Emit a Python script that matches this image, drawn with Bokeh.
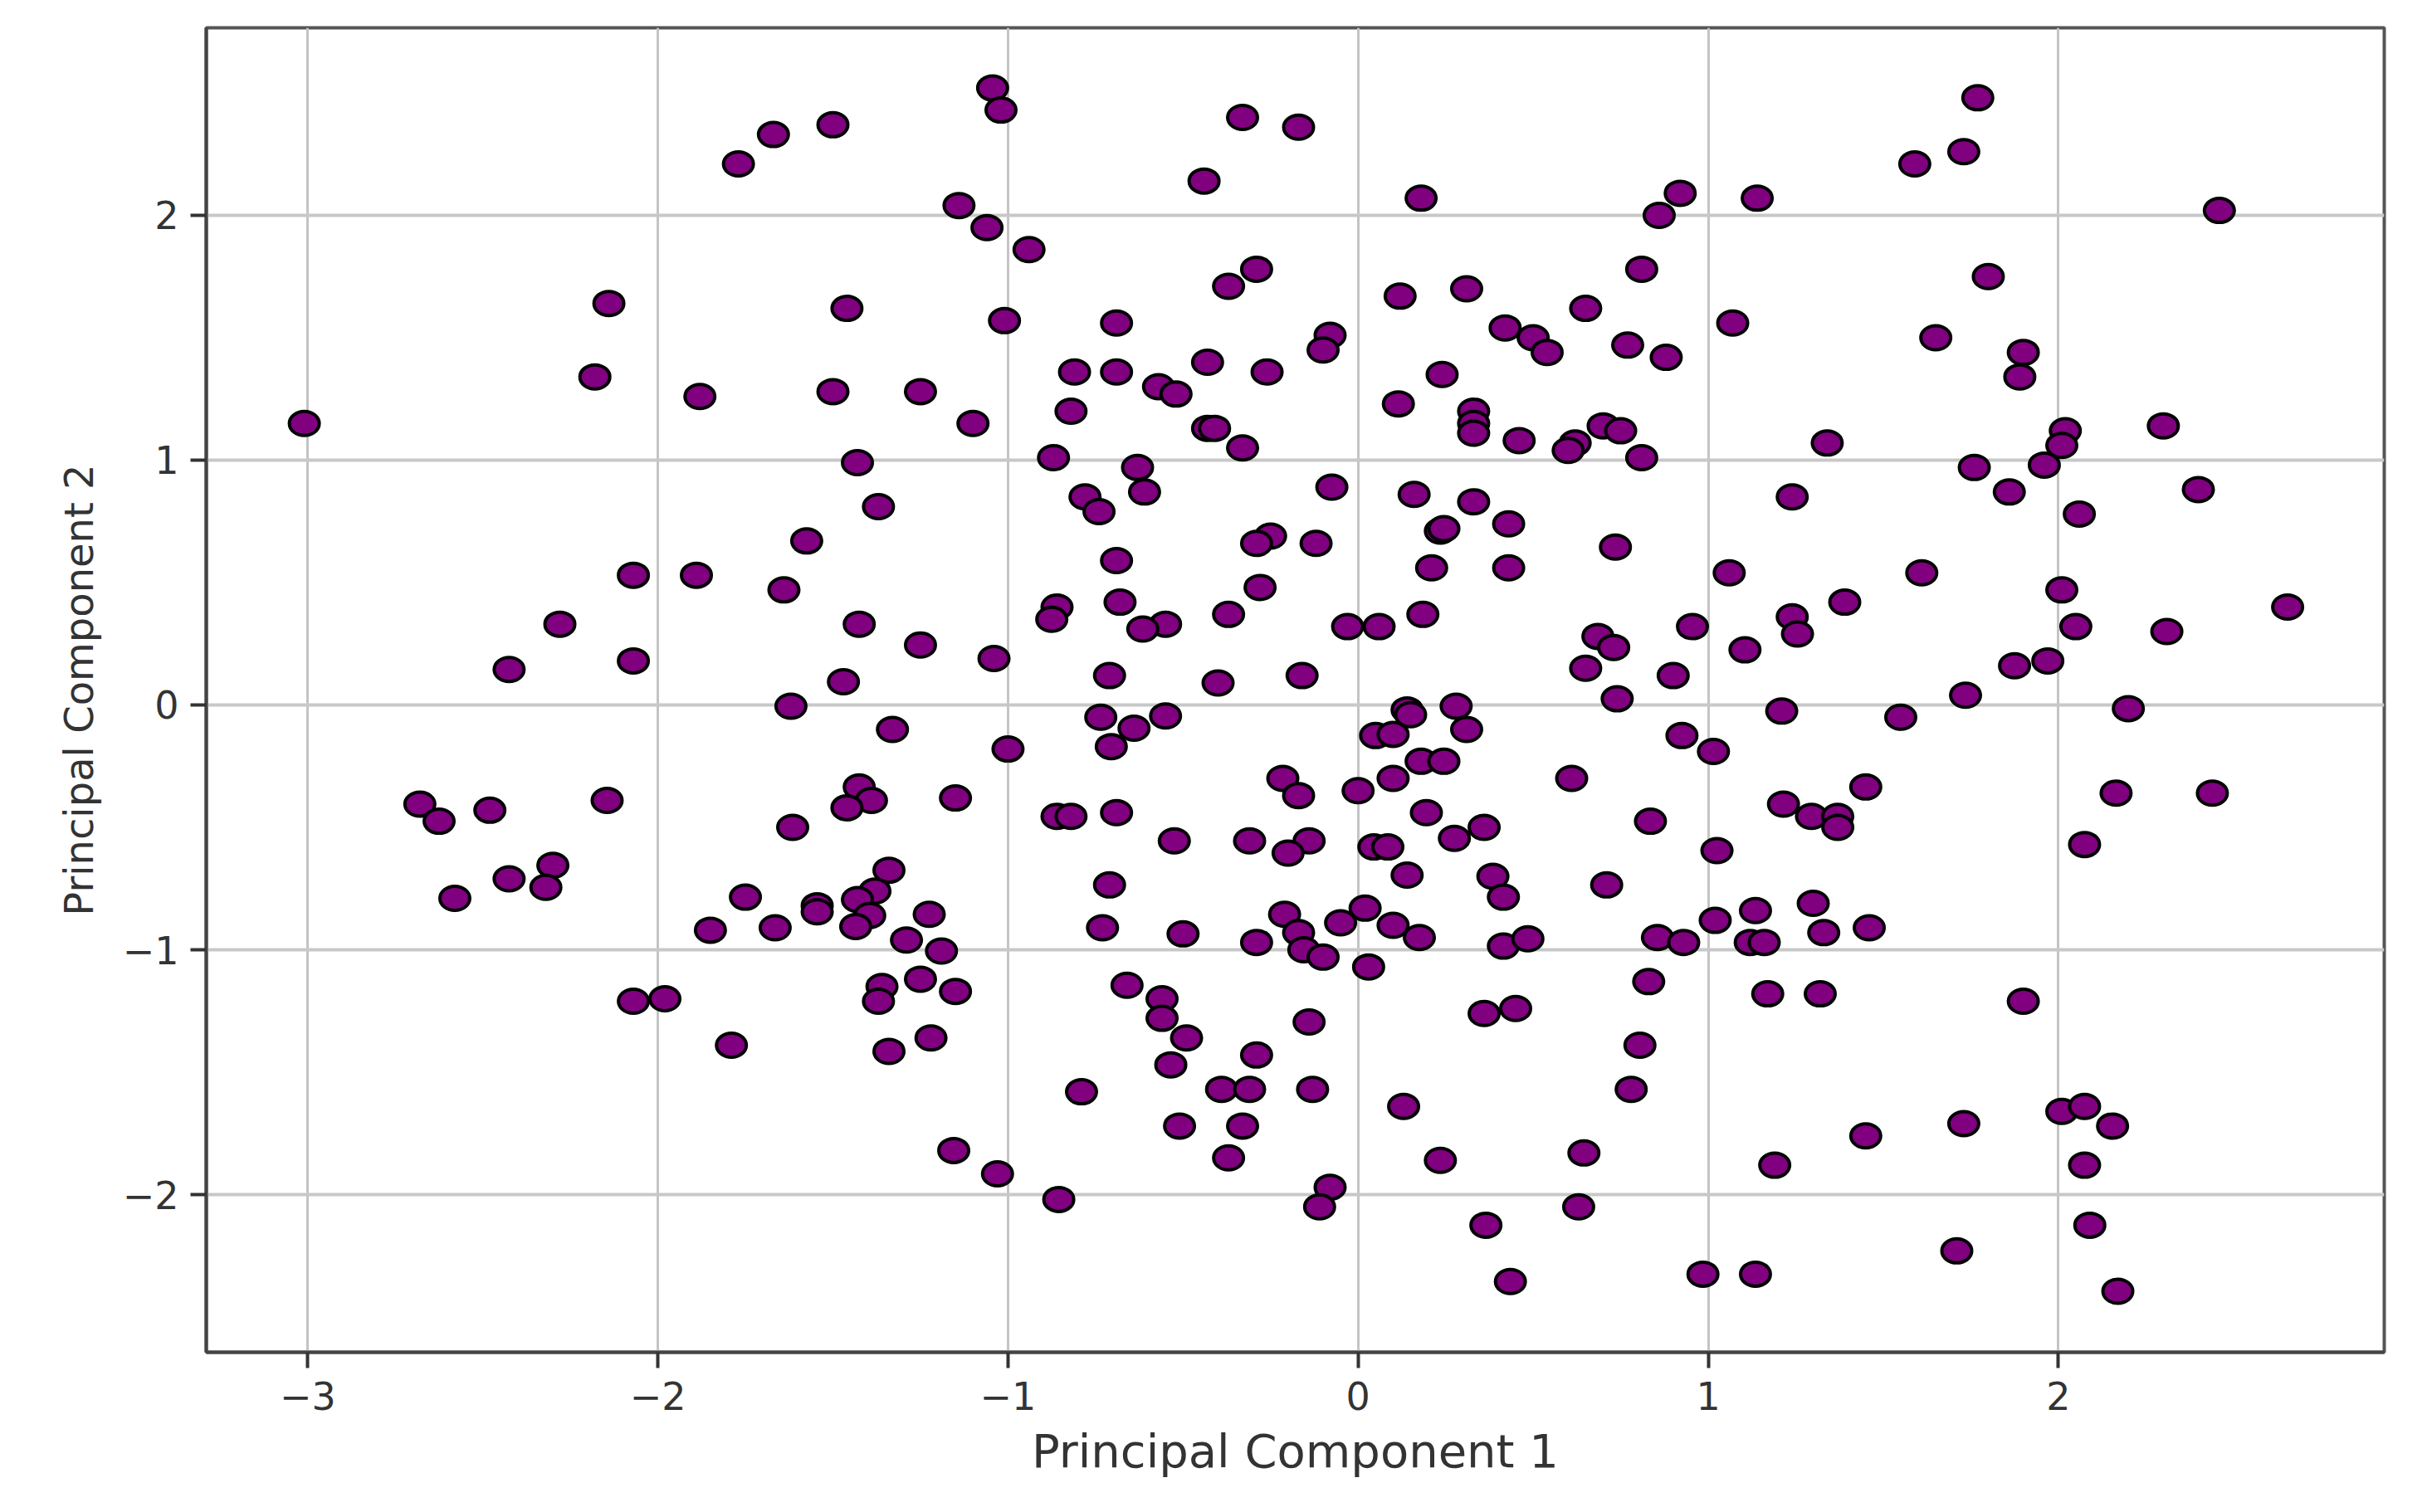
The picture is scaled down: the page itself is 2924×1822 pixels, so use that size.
from bokeh.plotting import figure
from bokeh.embed import file_html
from bokeh.resources import INLINE
from bokeh.models import Range1d, FixedTicker, Label, CustomJSTickFormatter

pc1 = [-1.044,-1.02,1.77,1.73,1.59,-0.33,-0.17,-1.50,-1.67,-1.77,-0.44,-1.14,-1.06,-0.94,0.18,0.92,0.86,1.14,2.46,
-2.14,-1.46,-1.01,-0.69,-0.29,-0.37,0.12,0.31,0.81,0.65,0.42,0.50,0.54,-0.08,-0.10,0.77,0.88,1.07,1.80,1.65,1.90,1.89,
-2.18,-1.88,-1.50,-1.25,-0.81,-0.69,-0.43,-0.26,0.24,-0.57,-0.52,0.115,-0.82,-1.10,-3.01,-0.43,-0.41,0.33,0.33,0.33,0.46,0.62,0.60,0.70,0.75,0.81,
-0.33,-0.87,-1.43,-0.63,1.34,2.02,2.01,1.96,2.30,1.76,1.86,2.40,2.06,1.24,-0.78,-0.74,-0.61,-1.37,-0.075,0.16,0.33,0.235,0.245,0.43,-0.25,-0.29,-0.12,
-0.69,-1.575,0.735,0.21,0.43,-2.07,-1.89,-1.64,-0.28,1.06,1.61,2.01,2.655,-0.86,-0.875,-0.68,-0.37,0.185,1.39,1.24,-2.28,-1.425,-0.55,-0.615,-0.03,0.06,0.955,2.05,2.31,1.255,
-1.25,0.685,0.73,1.105,-1.04,-2.07,-2.425,0.65,0.90,1.875,1.97,-0.71,-0.16,-1.47,-0.40,1.735,0.74,-1.62,0.28,2.20,1.21,0.14,1.55,-0.735,-0.55,-0.64,-1.33,0.31,0.05,0.10,0.15,
-0.705,0.925,-1.00,1.015,0.18,0.245,0.61,-0.215,0.10,-0.17,0.0,1.45,2.165,2.44,-2.68,-2.625,-2.48,-2.145,-1.425,-1.39,-1.46,-1.15,-0.86,-0.82,-0.69,0.195,1.215,1.295,1.37,1.37,0.835,
-1.615,0.36,0.275,-0.31,-0.14,-0.525,-0.20,0.045,0.085,1.025,2.075,-2.30,-2.425,-2.32,-2.58,-1.34,-1.38,-1.43,-1.75,-1.545,-1.545,-1.395,-1.435,-1.225,-0.71,0.14,0.385,0.415,0.71,1.135,1.30,
-0.21,0.02,-0.05,0.10,-0.17,-1.85,-1.665,-0.73,-0.50,0.175,-0.29,-1.29,-0.155,-0.10,-1.19,0.415,0.485,0.855,0.93,1.02,1.12,1.16,1.33,1.46,0.03,-1.25,-1.36,-1.15,-0.66,0.83,1.17,1.32,
-2.07,-1.98,-1.37,-0.56,1.90,-0.56,-0.14,0.36,0.45,-0.49,-1.22,-1.79,-1.34,-0.29,0.805,-0.535,-0.79,-0.39,-0.31,-0.13,0.78,0.13,2.01,2.075,-0.51,-0.33,1.73,2.155,1.45,
-1.155,-0.37,0.645,0.235,1.19,2.075,-1.03,-0.08,-0.855,-0.11,0.63,0.365,2.09,1.71,0.985,1.135,0.435,2.17]

pc2 = [2.52,2.43,2.48,2.26,2.21,2.40,2.36,2.37,2.33,2.21,2.14,2.04,1.95,1.86,2.07,2.09,2.00,2.07,2.02,
1.64,1.62,1.57,1.56,1.78,1.71,1.67,1.70,1.78,1.62,1.54,1.50,1.44,1.51,1.45,1.47,1.42,1.56,1.75,1.50,1.44,1.34,
1.34,1.26,1.28,1.28,1.36,1.36,1.40,1.36,1.35,1.30,1.27,1.23,1.20,1.15,1.15,1.13,1.13,1.20,1.15,1.11,1.08,1.07,1.04,1.14,1.12,1.01,
1.05,1.01,0.99,0.97,1.07,1.12,1.06,0.98,1.14,0.97,0.87,0.88,0.78,0.85,0.85,0.79,0.87,0.81,0.89,0.86,0.83,0.71,0.72,0.74,0.69,0.66,0.66,
0.59,0.67,0.645,0.56,0.56,0.53,0.53,0.47,0.48,0.54,0.54,0.47,0.40,0.40,0.35,0.42,0.37,0.37,0.42,0.36,0.33,0.33,0.33,0.31,0.32,0.32,0.32,0.32,0.30,0.29,
0.245,0.28,0.235,0.225,0.19,0.18,0.145,0.15,0.12,0.16,0.18,0.12,0.12,0.095,0.09,0.04,0.025,-0.005,-0.005,-0.015,-0.025,-0.02,-0.05,-0.05,-0.045,-0.095,-0.10,-0.10,-0.125,-0.12,-0.04,
-0.17,-0.125,-0.18,-0.19,-0.23,-0.23,-0.30,-0.30,-0.30,-0.37,-0.35,-0.335,-0.36,-0.36,-0.405,-0.475,-0.43,-0.39,-0.335,-0.39,-0.42,-0.38,-0.455,-0.455,-0.44,-0.44,-0.405,-0.455,-0.455,-0.50,-0.475,
-0.50,-0.50,-0.545,-0.555,-0.555,-0.555,-0.605,-0.58,-0.58,-0.595,-0.57,-0.655,-0.71,-0.745,-0.79,-0.675,-0.76,-0.795,-0.785,-0.82,-0.845,-0.86,-0.905,-0.855,-0.735,-0.695,-0.70,-0.785,-0.735,-0.84,-0.81,
-0.855,-0.83,-0.89,-0.90,-0.93,-0.92,-0.91,-0.91,-0.935,-0.95,-0.97,-0.96,-1.00,-1.03,-1.005,-0.985,-0.955,-0.95,-0.97,-0.88,-0.97,-0.97,-0.93,-0.91,-1.07,-1.12,-1.15,-1.17,-1.145,-1.13,-1.18,-1.18,
-1.21,-1.20,-1.21,-1.20,-1.21,-1.28,-1.295,-1.26,-1.24,-1.36,-1.36,-1.39,-1.415,-1.43,-1.39,-1.47,-1.58,-1.57,-1.57,-1.57,-1.57,-1.64,-1.66,-1.64,-1.72,-1.72,-1.71,-1.72,-1.76,
-1.82,-1.85,-1.83,-1.86,-1.88,-1.88,-1.915,-1.97,-2.02,-2.05,-2.05,-2.125,-2.125,-2.23,-2.325,-2.325,-2.355,-2.395]

x_ticks = [-3, -2, -1, 0, 1, 2]
y_ticks = [-2, -1, 0, 1, 2]
x_title = "Principal Component 1"
y_title = "Principal Component 2"

p = figure(
    width=2908, height=1806, output_backend="svg", toolbar_location=None,
    x_range=Range1d(-3.29, 2.931), y_range=Range1d(-2.644, 2.766),
    x_axis_label=x_title, y_axis_label=y_title,
    min_border_left=248, min_border_right=36, min_border_top=33, min_border_bottom=177,
    frame_width=2624, frame_height=1596,
)
p.background_fill_color = "white"
p.outline_line_color = "#555555"
p.outline_line_width = 4

p.xgrid.ticker = FixedTicker(ticks=x_ticks)
p.ygrid.ticker = FixedTicker(ticks=y_ticks)
p.xgrid.grid_line_color = "#c4c4c4"
p.ygrid.grid_line_color = "#c8c8c8"
p.xgrid.grid_line_width = 3
p.ygrid.grid_line_width = 4

fmt = CustomJSTickFormatter(code="return tick < 0 ? '\u2212' + Math.abs(tick) : String(tick);")
for ax, ticks in ((p.xaxis[0], x_ticks), (p.yaxis[0], y_ticks)):
    ax.ticker = FixedTicker(ticks=ticks)
    ax.formatter = fmt
    ax.minor_tick_line_color = None
    ax.major_tick_in = 0
    ax.major_tick_out = 19
    ax.major_tick_line_width = 4
    ax.major_tick_line_color = "#333333"
    ax.axis_line_color = "#444444"
    ax.axis_line_width = 4
    ax.major_label_text_font = "DejaVu Sans"
    ax.major_label_text_font_size = "46px"
    ax.major_label_text_color = "#333333"
    ax.axis_label_text_font = "DejaVu Sans"
    ax.axis_label_text_font_style = "normal"
    ax.axis_label_text_color = "#333333"

p.xaxis[0].axis_label_text_font_size = "56px"
p.yaxis[0].axis_label_text_font_size = "48px"
p.xaxis[0].major_label_standoff = 16
p.yaxis[0].major_label_standoff = 14
p.xaxis[0].axis_label_standoff = 14
p.yaxis[0].axis_label_standoff = 22

p.ellipse(x=pc1, y=pc2, width=36, height=29, width_units="screen", height_units="screen",
          fill_color="#800080", line_color="black", line_width=4)

p.add_layout(Label(x=1660, y=1782, x_units="screen", y_units="screen", text=",",
                   text_font_size="36px", text_color="#222222", text_font="DejaVu Sans",
                   text_font_style="italic"))

open("out.html", "w").write(file_html(p, INLINE))
